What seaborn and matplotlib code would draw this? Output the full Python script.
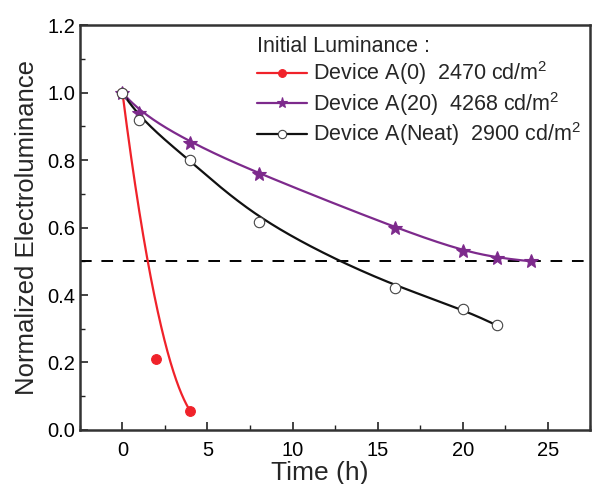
import numpy as np
import pandas as pd
import matplotlib
matplotlib.use("Agg")
import matplotlib.pyplot as plt
from matplotlib.lines import Line2D
import seaborn as sns

# ---- data ----
t_a0 = [0, 2, 4]
el_a0 = [1.0, 0.21, 0.055]
t_a20 = [0, 1, 4, 8, 16, 20, 22, 24]
el_a20 = [1.0, 0.94, 0.85, 0.76, 0.60, 0.53, 0.51, 0.50]
t_neat = [0, 1, 4, 8, 16, 20, 22]
el_neat = [1.0, 0.92, 0.80, 0.615, 0.42, 0.36, 0.31]
labels = [r"Device A(0)  2470 cd/m$^2$",
          r"Device A(20)  4268 cd/m$^2$",
          r"Device A(Neat)  2900 cd/m$^2$"]
legend_title = "Initial Luminance :"
x_ticks = [0, 5, 10, 15, 20, 25]
y_ticks = [0.0, 0.2, 0.4, 0.6, 0.8, 1.0, 1.2]
half_level = 0.5


def bspline(x, y, npts=400):
    """Clamped B-spline using the data points as control points (Origin style)."""
    P = np.column_stack([x, y]).astype(float)
    n = len(P)
    k = min(3, n - 1)
    inner = np.arange(1, n - k) / (n - k)
    knots = np.concatenate([np.zeros(k + 1), inner, np.ones(k + 1)])
    us = np.linspace(0, 1, npts)
    out = []
    for u in us:
        if u >= 1:
            out.append(P[-1]); continue
        s = np.searchsorted(knots, u, side="right") - 1
        d = [P[j + s - k].copy() for j in range(k + 1)]
        for r in range(1, k + 1):
            for j in range(k, r - 1, -1):
                i = j + s - k
                den = knots[i + k + 1 - r] - knots[i]
                a = 0 if den == 0 else (u - knots[i]) / den
                d[j] = (1 - a) * d[j - 1] + a * d[j]
        out.append(d[k])
    out = np.array(out)
    return out[:, 0], out[:, 1]


sns.set_style("ticks")
plt.rcParams['font.family'] = ['Liberation Sans', 'DejaVu Sans']
plt.rcParams['mathtext.fontset'] = 'custom'
plt.rcParams['mathtext.rm'] = 'Liberation Sans'

fig = plt.figure(figsize=(5.92, 4.84), dpi=100)
ax = fig.add_axes([0.135, 0.1116, 0.862, 0.8366])

red = "#f0222a"
purple = "#7d2a8c"
black = "#111111"

series = [
    (t_a0, el_a0, red, "o", red, 7),
    (t_a20, el_a20, purple, "*", purple, 10),
    (t_neat, el_neat, black, "o", "white", 7.5),
]

handles = []
for (tx, ty, col, mk, fc, ms), lab in zip(series, labels):
    xs, ys = bspline(tx, ty)
    sns.lineplot(x=xs, y=ys, ax=ax, color=col, lw=1.6, zorder=2, legend=False,
                 sort=False, estimator=None)
    df = pd.DataFrame({"t": tx, "v": ty})
    ax.plot(df["t"], df["v"], ls="none", marker=mk, ms=ms, mfc=fc,
            mec=col if fc != "white" else "#444444", mew=0.8, zorder=3)
    handles.append(Line2D([], [], color=col, lw=1.6, marker=mk,
                          ms=ms * 0.8, mfc=fc,
                          mec=col if fc != "white" else "#444444", mew=0.8))

ax.axhline(half_level, color="black", ls=(0, (6, 5)), lw=1.4, zorder=1)

ax.set_xlim(-2.5, 27.5)
ax.set_ylim(0, 1.2)
ax.set_xticks(x_ticks)
ax.set_yticks(y_ticks)
ax.set_yticklabels([f"{v:.1f}" for v in y_ticks])
ax.set_xticks(np.arange(-2.5, 27.6, 2.5), minor=True)
ax.set_yticks(np.arange(0, 1.21, 0.1), minor=True)
ax.tick_params(axis="both", which="major", direction="in", length=6, width=1.2,
               labelsize=14.5, colors="#222222", labelcolor="black")
ax.tick_params(axis="both", which="minor", direction="in", length=3.5, width=1.0,
               colors="#222222")
ax.tick_params(axis="x", pad=8)
for s in ax.spines.values():
    s.set_visible(True)
    s.set_linewidth(1.8)
    s.set_color("#333333")

ax.set_xlabel("Time (h)", fontsize=19, labelpad=0)
ax.xaxis.set_label_coords(0.469, -0.076)
ax.set_ylabel("Normalized Electroluminance", fontsize=18.5, labelpad=6)

leg = ax.legend(handles, labels, title=legend_title, loc="upper left",
                bbox_to_anchor=(0.322, 1.005), frameon=False, fontsize=15.5,
                title_fontsize=15.5, handlelength=2.3, handletextpad=0.3,
                labelspacing=0.12, borderaxespad=0.2)
leg._legend_box.align = "left"

fig.savefig("out.png", dpi=100)
